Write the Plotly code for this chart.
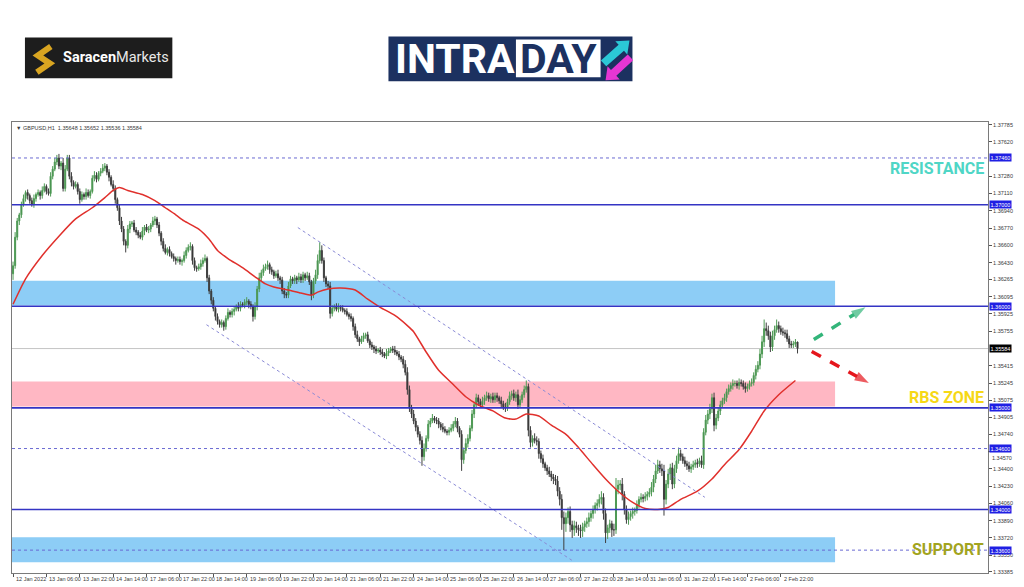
import plotly.graph_objects as go

# ---------------- data ----------------
first_open = 1.3632
closes = [
    1.3640,1.3668,1.3684,1.3690,1.3700,1.3706,1.3712,1.3709,1.3704,1.3700,1.3706,1.3710,1.3712,1.3709,1.3714,1.3718,1.3713,1.3711,1.3728,1.3735,
    1.3742,1.3746,1.3738,1.3741,1.3716,1.3735,1.3746,1.3728,1.3722,1.3718,1.3720,1.3713,1.3705,1.3710,1.3708,1.3712,1.3709,1.3713,1.3726,1.3729,
    1.3725,1.3731,1.3733,1.3736,1.3738,1.3732,1.3727,1.3720,1.3716,1.3705,1.3697,1.3684,1.3676,1.3664,1.3660,1.3676,1.3681,1.3682,1.3675,1.3673,
    1.3670,1.3668,1.3674,1.3678,1.3675,1.3676,1.3680,1.3684,1.3686,1.3680,1.3672,1.3664,1.3657,1.3653,1.3656,1.3652,1.3649,1.3647,1.3645,1.3646,
    1.3644,1.3645,1.3650,1.3655,1.3658,1.3659,1.3645,1.3638,1.3637,1.3639,1.3642,1.3645,1.3647,1.3628,1.3615,1.3606,1.3598,1.3590,1.3585,1.3582,
    1.3584,1.3580,1.3588,1.3594,1.3592,1.3595,1.3597,1.3600,1.3598,1.3602,1.3601,1.3604,1.3605,1.3602,1.3600,1.3590,1.3600,1.3617,1.3628,1.3633,
    1.3637,1.3639,1.3641,1.3636,1.3634,1.3630,1.3632,1.3628,1.3626,1.3615,1.3612,1.3611,1.3620,1.3627,1.3625,1.3628,1.3626,1.3629,1.3626,1.3631,
    1.3628,1.3630,1.3624,1.3611,1.3625,1.3631,1.3645,1.3655,1.3645,1.3628,1.3622,1.3620,1.3593,1.3598,1.3600,1.3597,1.3599,1.3598,1.3596,1.3595,
    1.3592,1.3590,1.3588,1.3580,1.3572,1.3568,1.3565,1.3568,1.3571,1.3572,1.3566,1.3562,1.3560,1.3558,1.3556,1.3557,1.3555,1.3553,1.3551,1.3554,
    1.3556,1.3558,1.3557,1.3555,1.3553,1.3550,1.3548,1.3543,1.3535,1.3518,1.3500,1.3494,1.3487,1.3481,1.3474,1.3468,1.3452,1.3460,1.3470,1.3484,
    1.3487,1.3490,1.3488,1.3487,1.3484,1.3481,1.3479,1.3477,1.3476,1.3478,1.3480,1.3484,1.3487,1.3480,1.3474,1.3449,1.3458,1.3465,1.3470,1.3480,
    1.3494,1.3503,1.3510,1.3506,1.3503,1.3507,1.3510,1.3512,1.3509,1.3511,1.3508,1.3512,1.3510,1.3507,1.3504,1.3501,1.3500,1.3506,1.3512,1.3514,
    1.3510,1.3513,1.3503,1.3508,1.3513,1.3518,1.3521,1.3478,1.3466,1.3470,1.3468,1.3467,1.3455,1.3450,1.3445,1.3441,1.3438,1.3435,1.3432,1.3430,
    1.3428,1.3418,1.3410,1.3392,1.3386,1.3392,1.3398,1.3385,1.3380,1.3384,1.3382,1.3380,1.3379,1.3383,1.3386,1.3388,1.3392,1.3396,1.3400,1.3404,
    1.3406,1.3410,1.3412,1.3396,1.3377,1.3382,1.3386,1.3380,1.3380,1.3420,1.3424,1.3425,1.3415,1.3400,1.3390,1.3393,1.3396,1.3398,1.3399,1.3405,
    1.3410,1.3412,1.3411,1.3413,1.3415,1.3417,1.3422,1.3430,1.3438,1.3444,1.3440,1.3438,1.3410,1.3425,1.3435,1.3441,1.3425,1.3440,1.3448,1.3455,
    1.3452,1.3448,1.3445,1.3443,1.3440,1.3442,1.3444,1.3446,1.3445,1.3448,1.3444,1.3476,1.3488,1.3494,1.3499,1.3510,1.3483,1.3490,1.3497,1.3503,
    1.3507,1.3510,1.3516,1.3519,1.3522,1.3524,1.3524,1.3522,1.3525,1.3524,1.3521,1.3519,1.3521,1.3524,1.3525,1.3532,1.3538,1.3542,1.3553,1.3565,
    1.3578,1.3576,1.3571,1.3560,1.3571,1.3577,1.3581,1.3578,1.3575,1.3574,1.3573,1.3568,1.3563,1.3562,1.3563,1.35648,1.35584,
]
# upper / lower wick lengths in pips
wick_up = [
    4,5,3,2,3,4,2,3,2,3,4,2,3,2,4,3,2,3,4,3,
    4,3,4,2,5,4,3,3,4,2,3,2,3,3,2,4,3,2,3,4,
    3,2,3,4,3,2,3,2,4,3,2,3,4,3,2,4,3,2,3,3,
    2,3,4,2,3,3,2,4,3,2,3,2,3,4,2,3,2,3,2,3,
    3,2,4,3,3,4,2,3,2,3,4,3,4,2,3,2,3,2,3,2,
    3,2,3,4,2,3,3,2,4,3,2,3,4,2,3,2,4,3,5,3,
    4,3,4,2,3,2,3,4,2,3,3,2,4,3,2,3,2,4,3,3,
    2,4,3,2,3,5,6,8,5,3,2,3,4,3,2,3,4,2,3,2,
    3,2,3,2,3,4,2,3,3,2,3,2,3,2,3,2,3,3,2,4,
    3,2,3,4,2,3,2,3,4,5,4,3,4,3,2,3,4,5,3,4,
    3,4,2,3,3,2,4,3,2,3,4,3,4,3,2,4,3,5,4,3,
    4,3,4,3,3,4,3,4,3,3,4,3,3,2,4,3,4,3,4,3,
    4,3,5,4,3,4,6,3,4,3,5,4,3,3,4,2,3,4,3,3,
    4,5,4,5,6,5,4,5,4,5,4,3,5,4,3,4,5,3,4,3,
    4,5,6,4,5,3,4,3,6,11,5,4,6,3,4,5,3,4,3,4,
    3,4,3,4,3,4,5,4,6,5,4,5,6,4,5,4,5,4,5,6,
    4,3,4,3,4,3,4,3,4,3,5,4,5,4,5,4,5,4,3,4,
    3,4,3,4,3,4,3,3,4,3,3,4,3,3,4,3,4,4,5,6,
    9,6,5,4,5,4,6,4,3,4,3,4,3,3,3,3,0.4,
]
wick_dn = [
    6,3,3,4,3,2,3,4,3,2,3,3,2,4,3,2,3,2,3,3,
    2,3,3,4,3,3,2,3,4,3,2,3,4,2,3,3,2,3,2,3,
    3,2,3,2,3,3,4,2,3,4,3,4,3,4,7,3,4,3,2,3,
    3,2,3,4,2,3,3,2,4,3,3,4,3,2,3,3,2,3,4,2,
    3,4,2,3,2,3,4,3,3,2,3,3,2,4,3,4,3,4,3,3,
    3,4,3,2,3,3,4,2,3,3,2,3,3,4,3,5,3,4,3,3,
    3,2,3,4,3,3,2,3,4,3,4,3,3,2,3,3,4,2,3,3,
    3,2,3,5,3,3,4,3,3,4,3,3,5,3,3,2,3,3,2,3,
    2,3,3,4,3,3,4,2,3,3,2,3,3,4,3,2,3,3,2,3,
    3,2,3,3,2,3,3,4,3,5,4,4,3,4,3,4,9,4,3,3,
    3,2,3,3,4,3,3,2,3,3,2,3,3,4,3,11,4,3,4,3,
    3,4,3,4,3,3,4,3,3,4,3,3,4,3,4,3,4,3,3,4,
    3,4,4,3,3,3,3,6,5,4,3,4,5,4,4,3,4,3,4,5,
    4,5,6,12,26,8,6,7,8,6,5,6,7,6,5,4,5,4,5,4,
    5,4,5,6,10,6,5,7,6,4,5,5,6,5,4,5,4,5,4,3,
    4,3,4,3,4,3,4,5,4,3,4,5,16,5,4,6,5,4,4,3,
    4,3,3,4,3,4,3,3,4,3,3,4,3,4,5,4,6,4,3,4,
    3,3,4,3,3,4,3,3,4,3,3,4,3,3,3,3,4,3,4,4,
    5,5,4,5,4,4,3,4,3,3,4,3,4,3,3,3,4.8,
]

# moving average (red line), sampled at bar indices
ma_bar = [0,6,14,22,30,38,44,48,51,55,62,68,73,78,82,89,94,98,103,110,
          116,121,125,132,138,143,146,151,157,164,170,176,183,189,192,198,204,211,217,223,
          230,236,241,246,252,258,265,271,278,284,290,297,303,309,314,320,328,335,341,348,
          354,360,367,375]
ma_val = [1.3602,1.3627,1.3650,1.3669,1.3686,1.3697,1.3707,1.3714,1.3717,1.3714,
          1.3710,1.3704,1.3697,1.3690,1.3684,1.3676,1.3666,1.3655,1.3647,1.3638,
          1.3629,1.3622,1.3619,1.3616,1.3613,1.3611,1.3614,1.3617,1.3618,1.3616,
          1.3607,1.3599,1.3591,1.3581,1.3575,1.3555,1.3537,1.3523,1.3511,1.3503,
          1.3497,1.3490,1.3489,1.3494,1.3492,1.3483,1.3474,1.3461,1.3444,1.3430,
          1.3418,1.3407,1.3401,1.3400,1.3402,1.3410,1.3418,1.3430,1.3444,1.3459,
          1.3477,1.3497,1.3513,1.3527]

tick_labels = ["12 Jan 2022", "13 Jan 06:00", "13 Jan 22:00", "14 Jan 14:00", "17 Jan 06:00",
               "17 Jan 22:00", "18 Jan 14:00", "19 Jan 06:00", "19 Jan 22:00", "20 Jan 14:00",
               "21 Jan 06:00", "21 Jan 22:00", "24 Jan 14:00", "25 Jan 06:00", "25 Jan 22:00",
               "26 Jan 14:00", "27 Jan 06:00", "27 Jan 22:00", "28 Jan 14:00", "31 Jan 06:00",
               "31 Jan 22:00", "1 Feb 14:00", "2 Feb 06:00", "2 Feb 22:00"]
tick_step = 16
# 1.37460 is shown by its level badge; 1.34570 sits just under the 1.34600 badge
price_ticks = [1.37785, 1.37620, 1.37280, 1.37110, 1.36940, 1.36770, 1.36600, 1.36430,
               1.36265, 1.36095, 1.35925, 1.35755, 1.35415, 1.35245, 1.35075, 1.34905, 1.34740,
               1.34400, 1.34230, 1.34060, 1.33890, 1.33720, 1.33550, 1.33385]
tucked_tick = 1.34570
levels_solid = [1.37000, 1.36000, 1.35000, 1.34000]
levels_dotted = [1.37460, 1.34600, 1.33600]
last_price = 1.35584
header_text = "▼ GBPUSD,H1  1.35648 1.35652 1.35536 1.35584"

zone_top = [1.36252, 1.35259, 1.33727]
zone_bottom = [1.36008, 1.35014, 1.33482]
zone_colors = ["#8dcdf6", "#ffb7c3", "#8dcdf6"]
zone_end_bar = 394

channel_up_x, channel_up_y = [136.5, 331.6], [1.36775, 1.34120]
channel_lo_x, channel_lo_y = [92.7, 267.8], [1.35819, 1.33501]

arrow_up_x, arrow_up_y = [383.8, 408.6], [1.35673, 1.35990]
arrow_dn_x, arrow_dn_y = [382.8, 410.2], [1.35555, 1.35245]

zone_labels = ["RESISTANCE", "RBS ZONE", "SUPPORT"]
zone_label_y = [1.37353, 1.35101, 1.33605]
zone_label_colors = ["#4fd6c6", "#f6d816", "#a2a41e"]

# ---------------- derived OHLC ----------------
n = len(closes)
opens = [first_open] + closes[:-1]
highs = [max(o, c) + u * 1e-4 for o, c, u in zip(opens, closes, wick_up)]
lows = [min(o, c) - d * 1e-4 for o, c, d in zip(opens, closes, wick_dn)]
bars = list(range(n))

# ---------------- geometry ----------------
W, H = 1024, 587
ML, MR, MT, MB = 11, 33, 122, 11
PW, PH = W - ML - MR, H - MT - MB
X_RANGE = [-0.5, 467.3]
Y_RANGE = [1.33375, 1.37814]


def px(x):
    return (x - ML) / PW


def py(y):
    return (H - MB - y) / PH


fig = go.Figure()

fig.add_trace(go.Candlestick(
    x=bars, open=opens, high=highs, low=lows, close=closes,
    increasing=dict(line=dict(color="#4f9a55", width=1), fillcolor="#2f7d3a"),
    decreasing=dict(line=dict(color="#3e3e3e", width=1), fillcolor="#222222"),
    whiskerwidth=0, showlegend=False, hoverinfo="skip",
))

fig.add_trace(go.Scatter(x=ma_bar, y=ma_val, mode="lines",
                         line=dict(color="#e0302c", width=1.5, shape="spline", smoothing=0.6),
                         showlegend=False, hoverinfo="skip"))

for cx, cy in [(channel_up_x, channel_up_y), (channel_lo_x, channel_lo_y)]:
    fig.add_trace(go.Scatter(x=cx, y=cy, mode="lines",
                             line=dict(color="#8a8ad6", width=1, dash="dot"),
                             showlegend=False, hoverinfo="skip"))

for ax_, ay_, col in [(arrow_up_x, arrow_up_y, "#33b57a"), (arrow_dn_x, arrow_dn_y, "#e5161c")]:
    fig.add_trace(go.Scatter(x=ax_, y=ay_, mode="lines+markers",
                             line=dict(color=col, width=3.5, dash="dash"),
                             marker=dict(symbol="arrow", size=[0, 15], color=col, angleref="previous",
                                         line=dict(width=0)),
                             showlegend=False, hoverinfo="skip"))

shapes = []
for t, b, c in zip(zone_top, zone_bottom, zone_colors):
    shapes.append(dict(type="rect", xref="x", yref="y", x0=X_RANGE[0], x1=zone_end_bar, y0=b, y1=t,
                       fillcolor=c, line=dict(width=0), layer="below"))
for lv in levels_solid:
    shapes.append(dict(type="line", xref="paper", yref="y", x0=0, x1=1, y0=lv, y1=lv,
                       line=dict(color="#3434c4", width=1.6)))
for lv in levels_dotted:
    shapes.append(dict(type="line", xref="paper", yref="y", x0=0, x1=1, y0=lv, y1=lv,
                       line=dict(color="#6a6ad2", width=1, dash="dot")))
shapes.append(dict(type="line", xref="paper", yref="y", x0=0, x1=1, y0=last_price, y1=last_price,
                   line=dict(color="#c4c4c4", width=1), layer="below"))
# small tick mark for the tucked-away price label
shapes.append(dict(type="line", xref="paper", yref="y", x0=1, x1=1 + 3 / PW, y0=tucked_tick, y1=tucked_tick,
                   line=dict(color="#555555", width=1)))

# --- logos (outside the plot area) ---
# Saracen Markets
shapes.append(dict(type="rect", xref="paper", yref="paper", x0=px(24), x1=px(172), y0=py(78), y1=py(37),
                   fillcolor="#1d1d1d", line=dict(width=0)))
s_path = "M {} {} L {} {} L {} {} L {} {}".format(px(50), py(46), px(37), py(55), px(49), py(63), px(36), py(72))
shapes.append(dict(type="path", xref="paper", yref="paper", path=s_path,
                   line=dict(color="#d9a521", width=6)))
# INTRADAY
shapes.append(dict(type="rect", xref="paper", yref="paper", x0=px(389), x1=px(634), y0=py(81), y1=py(36),
                   fillcolor="#1c3160", line=dict(width=0)))
shapes.append(dict(type="rect", xref="paper", yref="paper", x0=px(517), x1=px(602), y0=py(77), y1=py(39),
                   fillcolor="#ffffff", line=dict(width=0)))


def poly(points):
    return "M " + " L ".join("{} {}".format(px(a), py(b)) for a, b in points) + " Z"


cyan_arrow = [(602.3, 60.0), (620.1, 44.3), (616.8, 40.6), (631, 40), (628.8, 54.0), (625.5, 50.3), (607.7, 66.0)]
mag_arrow = [(629.3, 54.1), (612.4, 69.7), (609.0, 66.0), (607, 80), (621.2, 79.2), (617.8, 75.5), (634.7, 59.9)]
shapes.append(dict(type="path", xref="paper", yref="paper", path=poly(cyan_arrow),
                   fillcolor="#2bc8d6", line=dict(width=0)))
shapes.append(dict(type="path", xref="paper", yref="paper", path=poly(mag_arrow),
                   fillcolor="#e536d3", line=dict(width=0)))

annotations = []
small = dict(family="Liberation Sans, Arial", size=5.5, color="#3a3a3a")

for k, lab in enumerate(tick_labels):
    annotations.append(dict(x=k * tick_step, y=0, xref="x", yref="paper", text=lab, showarrow=False,
                            xanchor="left", yanchor="top", xshift=1, yshift=-1, font=small))

annotations.append(dict(x=1, y=tucked_tick, xref="paper", yref="y", text="{:.5f}".format(tucked_tick),
                        showarrow=False, xanchor="left", yanchor="top", xshift=2, yshift=-1, font=small))

for lv in levels_solid + levels_dotted:
    annotations.append(dict(x=1, y=lv, xref="paper", yref="y", text="{:.5f}".format(lv), showarrow=False,
                            xanchor="left", yanchor="middle", xshift=1, bgcolor="#1f1fe3", borderpad=0.5,
                            font=dict(family="Liberation Sans, Arial", size=5.5, color="#ffffff")))
annotations.append(dict(x=1, y=last_price, xref="paper", yref="y", text="{:.5f}".format(last_price),
                        showarrow=False, xanchor="left", yanchor="middle", xshift=1, bgcolor="#000000",
                        borderpad=0.5, font=dict(family="Liberation Sans, Arial", size=5.5, color="#ffffff")))

annotations.append(dict(x=0, y=1, xref="paper", yref="paper", text=header_text, showarrow=False,
                        xanchor="left", yanchor="top", xshift=2, yshift=-1, font=small))

for lab, ly, lc in zip(zone_labels, zone_label_y, zone_label_colors):
    annotations.append(dict(x=px(989), y=ly, xref="paper", yref="y", text="<b>" + lab + "</b>",
                            showarrow=False, xanchor="right", yanchor="middle",
                            font=dict(family="Liberation Sans Narrow, Roboto", size=16, color=lc)))

annotations.append(dict(x=px(60), y=py(57.5), xref="paper", yref="paper",
                        text="<b>Saracen</b><span style='color:#e8e8e8'>Markets</span>", showarrow=False,
                        xanchor="left", yanchor="middle",
                        font=dict(family="Roboto", size=14.5, color="#ffffff")))
annotations.append(dict(x=px(394), y=py(58.5), xref="paper", yref="paper", text="<b>INTRA</b>",
                        showarrow=False, xanchor="left", yanchor="middle",
                        font=dict(family="Roboto", size=41, color="#ffffff")))
annotations.append(dict(x=px(559.5), y=py(58.5), xref="paper", yref="paper", text="<b>DAY</b>",
                        showarrow=False, xanchor="center", yanchor="middle",
                        font=dict(family="Roboto", size=41, color="#1c3160")))

fig.update_layout(
    width=W, height=H,
    margin=dict(l=ML, r=MR, t=MT, b=MB),
    paper_bgcolor="#ffffff", plot_bgcolor="#ffffff",
    shapes=shapes, annotations=annotations,
    showlegend=False,
    xaxis=dict(range=X_RANGE, rangeslider=dict(visible=False), showgrid=False, zeroline=False,
               showline=True, mirror=True, linecolor="#7a7a7a", linewidth=1,
               tickvals=[k * tick_step for k in range(len(tick_labels))], showticklabels=False,
               ticks="outside", ticklen=3, tickcolor="#555555"),
    yaxis=dict(range=Y_RANGE, side="right", showgrid=False, zeroline=False,
               showline=True, mirror=True, linecolor="#7a7a7a", linewidth=1,
               tickvals=price_ticks, tickformat=".5f", ticks="outside", ticklen=3, tickcolor="#555555",
               tickfont=small),
)

fig.write_html("out.html", config={"displayModeBar": False},
               post_script="document.body.style.margin='0';document.body.style.overflow='hidden';")
